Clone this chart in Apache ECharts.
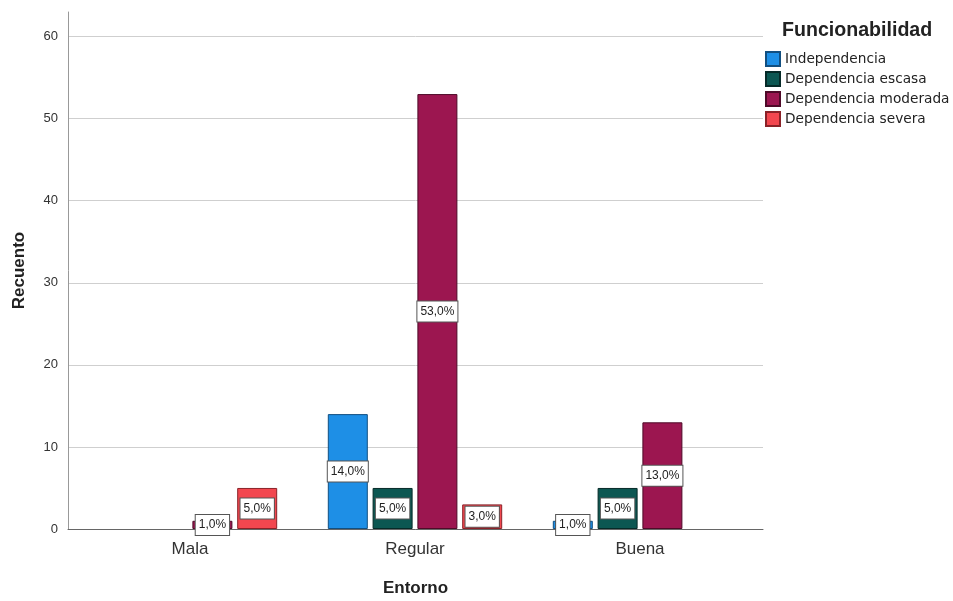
<!DOCTYPE html>
<html>
<head>
<meta charset="utf-8">
<script src="https://cdn.jsdelivr.net/npm/echarts@6/dist/echarts.min.js"></script>
<style>
  html, body { margin: 0; padding: 0; background: #fff; }
  #chart { width: 953px; height: 601px; }
</style>
</head>
<body>
<div id="chart"></div>
<script>
// Entorno categories on the x axis
const categories = ['Mala', 'Regular', 'Buena'];

// Counts per functionality level (one value per Entorno category)
const independencia = [0, 14, 1];
const dependenciaEscasa = [0, 5, 5];
const dependenciaModerada = [1, 53, 13];
const dependenciaSevera = [5, 3, 0];

const seriesNames = ['Independencia', 'Dependencia escasa', 'Dependencia moderada', 'Dependencia severa'];
const seriesValues = [independencia, dependenciaEscasa, dependenciaModerada, dependenciaSevera];
const fills = ['#1e8fe6', '#0c5752', '#9c1650', '#f2474f'];
const edges = ['#124f80', '#062a28', '#4e0a28', '#8a2228'];

const total = seriesValues.flat().reduce((a, b) => a + b, 0);
const fontFamily = 'Arial, "Liberation Sans", sans-serif';
const legendFont = '"DejaVu Sans", Verdana, sans-serif';

const chart = echarts.init(document.getElementById('chart'), null, { renderer: 'canvas' });

const barSeries = seriesNames.map((name, i) => ({
  name: name,
  type: 'bar',
  xAxisIndex: 1,
  yAxisIndex: 1,
  barWidth: 40,
  barGap: '12%',
  data: seriesValues[i].map(v => (v === 0 ? '-' : v)),
  itemStyle: { color: fills[i], borderColor: edges[i], borderWidth: 1 },
  label: {
    show: true,
    position: 'inside',
    formatter: p => (p.value / total * 100).toFixed(1).replace('.', ',') + '%',
    fontFamily: fontFamily,
    fontSize: 12,
    color: '#222',
    backgroundColor: '#fff',
    borderColor: '#555',
    borderWidth: 1,
    padding: [4, 3, 4, 3]
  },
  emphasis: { disabled: true }
}));

chart.setOption({
  animation: false,
  backgroundColor: '#fff',
  textStyle: { fontFamily: fontFamily },
  title: {
    text: 'Funcionabilidad',
    left: 782,
    top: 21,
    padding: 0,
    textStyle: { fontFamily: fontFamily, fontSize: 19.6, fontWeight: 'bold', color: '#222' }
  },
  legend: {
    orient: 'vertical',
    left: 765,
    top: 51,
    padding: 0,
    icon: 'rect',
    itemWidth: 14,
    itemHeight: 14,
    itemGap: 4,
    data: seriesNames,
    textStyle: { fontFamily: legendFont, fontSize: 13.7, lineHeight: 14, color: '#222' }
  },
  grid: [
    { left: 68, right: 190, top: 12, bottom: 72, outerBoundsMode: 'none', containLabel: false },
    { left: 77.5, right: 200.5, top: 12, bottom: 72, outerBoundsMode: 'none', containLabel: false }
  ],
  xAxis: [
    {
      type: 'value',
      gridIndex: 0,
      min: 0,
      max: 1,
      name: 'Entorno',
      nameLocation: 'middle',
      nameGap: 51,
      nameTextStyle: { fontFamily: fontFamily, fontSize: 17, fontWeight: 'bold', color: '#222' },
      axisLine: { show: true, onZero: false, lineStyle: { color: '#666', width: 1 } },
      axisTick: { show: false },
      axisLabel: { show: false },
      splitLine: { show: false }
    },
    {
      type: 'category',
      gridIndex: 1,
      data: categories,
      axisLine: { show: false },
      axisTick: { show: false },
      axisLabel: { fontFamily: fontFamily, fontSize: 17, color: '#333', margin: 12 },
      splitLine: { show: false }
    }
  ],
  yAxis: [
    {
      type: 'value',
      gridIndex: 0,
      min: 0,
      max: 63,
      interval: 10,
      name: 'Recuento',
      nameLocation: 'middle',
      nameGap: 40,
      nameTextStyle: { fontFamily: fontFamily, fontSize: 17, fontWeight: 'bold', color: '#222' },
      axisLine: { show: true, lineStyle: { color: '#999', width: 1 } },
      axisTick: { show: false },
      axisLabel: { fontFamily: fontFamily, fontSize: 13, color: '#333', margin: 10, showMaxLabel: false },
      splitLine: { show: true, showMaxLine: false, lineStyle: { color: '#cfcfcf', width: 1 } }
    },
    {
      type: 'value',
      gridIndex: 1,
      min: 0,
      max: 63,
      show: false,
      splitLine: { show: false }
    }
  ],
  series: barSeries
});
</script>
</body>
</html>
